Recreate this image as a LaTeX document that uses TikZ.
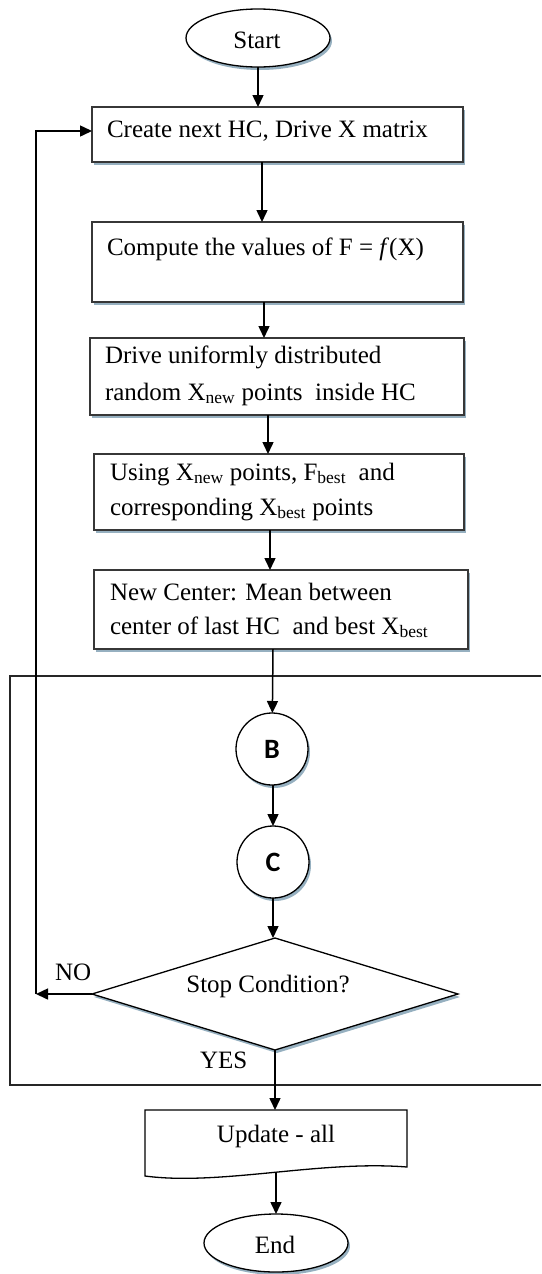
\documentclass[tikz,border=0pt]{standalone}
\usepackage{fontspec}
\setmainfont{Liberation Serif}
\newfontfamily\labelsans{Carlito}
\usetikzlibrary{shapes.geometric,shadows,arrows.meta,calc}
\definecolor{edgegray}{RGB}{55,55,55}
\definecolor{shadowblue}{RGB}{150,176,192}

\begin{document}
\begin{tikzpicture}[x=1pt,y=-1pt,
  font=\fontsize{25}{28}\selectfont,
  every node/.style={inner sep=0pt, outer sep=0pt},
  softshadow/.style={drop shadow={shadow xshift=2pt, shadow yshift=-3pt, fill=shadowblue, opacity=1}},
  procbox/.style={rectangle, draw=edgegray, line width=1.5pt, fill=white, anchor=north west, softshadow},
  terminal/.style={ellipse, draw=black, line width=1.3pt, fill=white, minimum width=144pt, minimum height=58pt, softshadow},
  connector/.style={circle, draw=black, line width=1.3pt, fill=white, minimum size=72pt, softshadow, font=\labelsans\bfseries\fontsize{28}{30}\selectfont},
  decision/.style={diamond, draw=black, line width=1.3pt, fill=white, minimum width=366pt, minimum height=112pt, softshadow},
  txt/.style={anchor=base west},
  arr/.style={draw=black, line width=1.5pt, -{Triangle[length=12pt,width=11pt]}},
  frame/.style={draw=black!85, line width=1.4pt}
]
\useasboundingbox (0,0) rectangle (541,1274);

% surrounding frame (open on the right)
\draw[frame] (541,676) -| (10,1085) -- (541,1085);

% terminals
\node[terminal] (start) at (258,38) {};
\node[anchor=base] (starttxt) at (257,48) {Start};

% process boxes
\node[procbox, minimum width=371pt, minimum height=55pt] (b1) at (92,107) {};
\node[txt] (t1) at (107,137) {Create next HC, Drive X matrix};

\node[procbox, minimum width=371pt, minimum height=80pt] (b2) at (92,222) {};
\node[txt] (t2) at (107,255) {Compute the values of F = \textit{f}(X)};

\node[procbox, minimum width=374pt, minimum height=77pt] (b3) at (90,338) {};
\node[txt] (t3a) at (105,363) {Drive uniformly distributed};
\node[txt] (t3b) at (105,400) {random X\textsubscript{new} points\ \ inside HC};

\node[procbox, minimum width=370pt, minimum height=76pt] (b4) at (94,454) {};
\node[txt] (t4a) at (110,480) {Using X\textsubscript{new} points, F\textsubscript{best}\ \ and};
\node[txt] (t4b) at (110,515) {corresponding X\textsubscript{best} points};

\node[procbox, minimum width=374pt, minimum height=79pt] (b5) at (94,570) {};
\node[txt] (t5a) at (110,600) {New Center: Mean between};
\node[txt] (t5b) at (110,634) {center of last HC\ \ and best X\textsubscript{best}};

% connectors B and C
\node[connector] (B) at (272,749) {B};
\node[connector] (C) at (273,862) {C};

% decision
\node[decision] (d) at (275,994) {};
\node[anchor=base] (dtxt) at (268,992) {Stop Condition?};
\node[txt] (no) at (55,980) {NO};
\node[txt] (yes) at (200,1068) {YES};

% output document
\node[minimum width=262pt, minimum height=57pt, anchor=north west] (upd) at (145,1110) {};
\draw[draw=black, line width=1.3pt, fill=white]
  (upd.north west) -- (upd.north east) -- (upd.south east)
  .. controls (320,1160) and (220,1186) .. (145,1176) -- cycle;
\node[anchor=base] (updtxt) at (276,1142) {Update - all};
\coordinate (updout) at (276,1173);

\node[terminal] (end) at (276,1243) {};
\node[anchor=base] (endtxt) at (275,1253) {End};

% flow
\draw[arr] (start.south) -- (start.south |- b1.north);
\draw[arr] ([xshift=-15.5pt]b1.south) -- ([xshift=-15.5pt]b1.south |- b2.north);
\draw[arr] ([xshift=-13.5pt]b2.south) -- ([xshift=-13.5pt]b2.south |- b3.north);
\draw[arr] ([xshift=-9pt]b3.south) -- ([xshift=-9pt]b3.south |- b4.north);
\draw[arr] ([xshift=-9pt]b4.south) -- ([xshift=-9pt]b4.south |- b5.north);
\draw[arr] (b5.south -| C) -- (B);
\draw[arr] (B.south -| C) -- (C);
\draw[arr] (C) -- (C |- d.north);

% loop back on NO
\coordinate (loop) at (36,994);
\draw[arr] (d.west) -- (loop);
\draw[arr] (loop) |- ([yshift=3.5pt]b1.west);

% exit on YES
\draw[arr] (d.south) -- (d.south |- upd.north);
\draw[arr] (updout) -- (updout |- end.north);
\end{tikzpicture}
\end{document}
